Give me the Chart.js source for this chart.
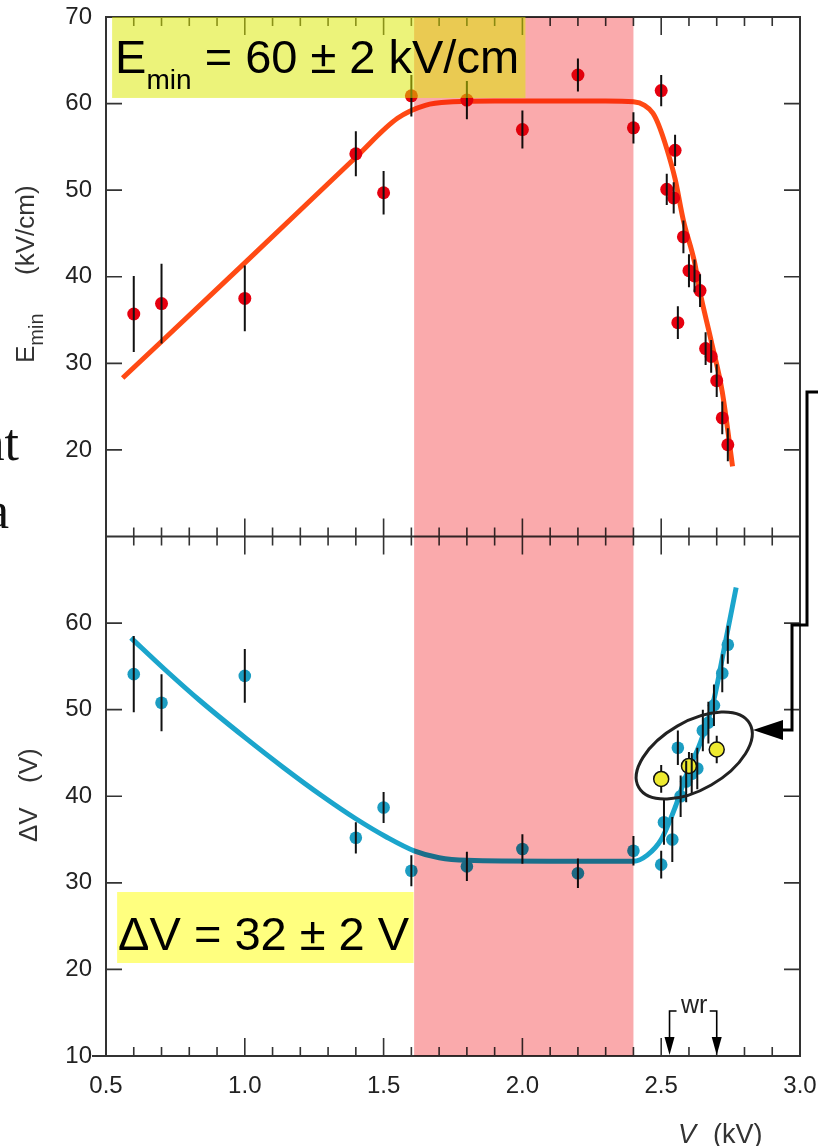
<!DOCTYPE html>
<html>
<head>
<meta charset="utf-8">
<script src="https://cdn.jsdelivr.net/npm/chart.js@4.4.1/dist/chart.umd.min.js"></script>
<style>
  html, body { margin: 0; padding: 0; background: #fff; }
  #wrap { position: relative; width: 818px; height: 1146px; }
</style>
</head>
<body>
<div id="wrap"><canvas id="chart" width="818" height="1146"></canvas></div>
<script>
"use strict";

// -----------------------------
// data
// -----------------------------
// upper panel : E_min (kV/cm) vs V (kV)
const eX   = [0.60, 0.70, 1.00, 1.40, 1.50, 1.60, 1.80, 2.00, 2.20, 2.40, 2.50, 2.52, 2.545, 2.55, 2.56, 2.58, 2.60, 2.62, 2.64, 2.66, 2.68, 2.70, 2.72, 2.74];
const eY   = [35.7, 36.9, 37.5, 54.2, 49.7, 60.9, 60.4, 57.0, 63.3, 57.2, 61.5, 50.1, 49.1, 54.6, 34.7, 44.6, 40.7, 40.1, 38.4, 31.7, 30.8, 28.0, 23.7, 20.6];
const eErr = [4.4, 4.6, 3.8, 2.6, 2.5, 2.4, 2.2, 2.2, 1.9, 1.8, 1.8, 1.8, 1.8, 1.8, 1.9, 1.9, 1.9, 1.9, 1.9, 1.9, 1.9, 1.9, 1.9, 1.9];
const eFitX = [0.56, 1.00, 1.40, 1.55, 1.65, 1.75, 1.90, 2.10, 2.30, 2.40, 2.44, 2.47, 2.49, 2.52, 2.55, 2.58, 2.62, 2.64, 2.68, 2.72, 2.757];
const eFitY = [28.3, 41.6, 53.8, 58.3, 59.8, 60.2, 60.3, 60.3, 60.3, 60.2, 59.8, 58.9, 57.6, 54.8, 51.3, 46.5, 41.7, 38.2, 32.6, 26.7, 18.1];

// lower panel : delta V (V) vs V (kV)
const dX   = [0.60, 0.70, 1.00, 1.40, 1.50, 1.60, 1.80, 2.00, 2.20, 2.40, 2.50, 2.51, 2.54, 2.56, 2.57, 2.59, 2.61, 2.63, 2.65, 2.67, 2.69, 2.72, 2.74];
const dY   = [54.1, 50.8, 53.9, 35.2, 38.7, 31.4, 31.9, 33.9, 31.1, 33.7, 32.1, 37.0, 35.0, 45.6, 40.0, 41.7, 42.6, 43.2, 47.6, 48.5, 50.5, 54.2, 57.5];
const dErr = [4.4, 3.3, 3.1, 1.8, 1.8, 1.8, 1.7, 1.7, 1.7, 1.7, 1.6, 2.6, 2.6, 2.0, 2.4, 2.4, 2.4, 2.4, 2.4, 2.4, 2.4, 2.2, 2.2];
const dFitX = [0.59, 0.71, 0.84, 1.00, 1.14, 1.28, 1.40, 1.51, 1.61, 1.70, 1.80, 2.10, 2.40, 2.45, 2.50, 2.55, 2.59, 2.64, 2.69, 2.73, 2.77];
const dFitY = [58.3, 54.7, 51.0, 46.8, 43.3, 40.0, 37.4, 35.3, 33.7, 32.9, 32.6, 32.5, 32.5, 33.2, 35.0, 38.7, 42.4, 46.1, 51.2, 57.6, 64.1];

// circled (yellow) points
const hX   = [2.50, 2.60, 2.70];
const hY   = [42.0, 43.5, 45.4];
const hErr = [1.6, 1.6, 1.6];

// ticks / marks
const xTicks  = [0.5, 1.0, 1.5, 2.0, 2.5, 3.0];
const yTicksE = [20, 30, 40, 50, 60, 70];
const yTicksD = [10, 20, 30, 40, 50, 60];
const band    = [1.61, 2.40];
const wrMarks = [2.53, 2.70];

const FONT = '"Liberation Sans", Arial, Helvetica, sans-serif';

function pts(xs, ys) {
  return xs.map((x, i) => ({ x, y: ys[i] }));
}

// -----------------------------
// drawing helpers
// -----------------------------
function drawErrorBars(chart, under) {
  const c = chart.ctx;
  chart.data.datasets.forEach((ds, i) => {
    if (!ds.errs || !!ds.errUnder !== under) return;
    const meta = chart.getDatasetMeta(i);
    const ys = chart.scales[ds.yAxisID];
    c.save();
    c.strokeStyle = "#111";
    c.lineWidth = 2;
    c.beginPath();
    ds.data.forEach((p, j) => {
      const x = meta.data[j].x;
      c.moveTo(x, ys.getPixelForValue(p.y + ds.errs[j]));
      c.lineTo(x, ys.getPixelForValue(p.y - ds.errs[j]));
    });
    c.stroke();
    c.restore();
  });
}

function drawFrame(chart) {
  const { ctx: c, chartArea: a, scales } = chart;
  const xs = scales.x;
  const mid = scales.yE.bottom;
  c.save();
  c.strokeStyle = "#333";
  c.lineWidth = 2;
  c.beginPath();
  c.rect(a.left, a.top, a.right - a.left, a.bottom - a.top);
  c.moveTo(a.left, mid); c.lineTo(a.right, mid);
  c.moveTo(a.left - 14, a.bottom); c.lineTo(a.left, a.bottom);
  c.stroke();

  c.lineWidth = 1.6;
  c.beginPath();
  for (let k = 5; k <= 30; k++) {
    const px = xs.getPixelForValue(k / 10);
    const len = k % 5 === 0 ? 18 : 9;
    c.moveTo(px, a.top); c.lineTo(px, a.top + len);
    c.moveTo(px, mid - len); c.lineTo(px, mid + len);
    c.moveTo(px, a.bottom); c.lineTo(px, a.bottom - len);
  }
  ["yE", "yD"].forEach((id) => {
    const s = scales[id];
    [20, 30, 40, 50, 60].forEach((v) => {
      const py = s.getPixelForValue(v);
      c.moveTo(a.left, py); c.lineTo(a.left + 16, py);
      c.moveTo(a.right, py); c.lineTo(a.right - 16, py);
    });
  });
  c.stroke();
  c.restore();
}

function drawBand(chart) {
  const { ctx: c, chartArea: a, scales } = chart;
  const x0 = scales.x.getPixelForValue(band[0]);
  const x1 = scales.x.getPixelForValue(band[1]);
  c.save();
  c.globalCompositeOperation = "multiply";
  c.fillStyle = "rgb(250,170,172)";
  c.fillRect(x0, a.top, x1 - x0, a.bottom - a.top);
  c.restore();
}

function drawBoxes(chart) {
  const { ctx: c, scales } = chart;
  const xs = scales.x, yE = scales.yE, yD = scales.yD;
  c.save();
  // upper label box
  let l = xs.getPixelForValue(0.522), r = xs.getPixelForValue(2.011);
  let t = yE.getPixelForValue(70), b = yE.getPixelForValue(60.65);
  c.fillStyle = "rgba(218,232,0,0.52)";
  c.fillRect(l, t, r - l, b - t);
  c.fillStyle = "#000";
  c.textBaseline = "alphabetic";
  c.font = "47px " + FONT;
  c.fillText("E", l + 3, t + 56);
  const wE = c.measureText("E").width;
  c.font = "28px " + FONT;
  c.fillText("min", l + 3 + wE, t + 72);
  const wM = c.measureText("min").width;
  c.font = "47px " + FONT;
  c.fillText(" = 60 \u00b1 2 kV/cm", l + 3 + wE + wM, t + 56);

  // lower label box
  l = xs.getPixelForValue(0.54); r = xs.getPixelForValue(1.608);
  t = yD.getPixelForValue(28.94); b = yD.getPixelForValue(20.74);
  c.fillStyle = "rgba(255,255,0,0.5)";
  c.fillRect(l, t, r - l, b - t);
  c.fillStyle = "#000";
  c.font = "47px " + FONT;
  c.fillText("\u0394V = 32 \u00b1 2 V", l + 1, t + 58);
  c.restore();
}

function drawNotes(chart) {
  const { ctx: c, chartArea: a, scales } = chart;
  const xs = scales.x, yD = scales.yD;
  c.save();

  // ellipse around the circled points
  const ex = xs.getPixelForValue(2.619), ey = yD.getPixelForValue(44.7);
  c.strokeStyle = "#222";
  c.lineWidth = 3;
  c.beginPath();
  c.ellipse(ex, ey, 64, 34, -Math.PI / 6, 0, Math.PI * 2);
  c.stroke();

  // connector bracket on the right
  c.strokeStyle = "#000";
  c.lineWidth = 3;
  c.beginPath();
  c.moveTo(818, 392);
  c.lineTo(a.right + 7, 392);
  c.lineTo(a.right + 7, 625);
  c.lineTo(a.right - 8, 625);
  c.lineTo(a.right - 8, 730);
  c.lineTo(a.right - 18, 730);
  c.stroke();
  c.fillStyle = "#000";
  c.beginPath();
  c.moveTo(a.right - 17, 720);
  c.lineTo(a.right - 47, 730);
  c.lineTo(a.right - 17, 740);
  c.closePath();
  c.fill();

  // "wr" markers
  const w0 = xs.getPixelForValue(wrMarks[0]), w1 = xs.getPixelForValue(wrMarks[1]);
  const hy = a.bottom - 45;
  c.lineWidth = 1.6;
  c.beginPath();
  c.moveTo(w0 + 7, hy); c.lineTo(w0, hy); c.lineTo(w0, a.bottom - 16);
  c.moveTo(w1 - 7, hy); c.lineTo(w1, hy); c.lineTo(w1, a.bottom - 16);
  c.stroke();
  [w0, w1].forEach((wx) => {
    c.beginPath();
    c.moveTo(wx - 5, a.bottom - 19);
    c.lineTo(wx, a.bottom - 1);
    c.lineTo(wx + 5, a.bottom - 19);
    c.closePath();
    c.fill();
  });
  c.fillStyle = "#222";
  c.font = "25px " + FONT;
  c.textAlign = "center";
  c.fillText("wr", (w0 + w1) / 2 + 1, a.bottom - 43);

  // axis titles
  c.fillStyle = "#333";
  c.textAlign = "left";
  c.save();
  c.translate(34, 363);
  c.rotate(-Math.PI / 2);
  c.font = "26px " + FONT;
  c.fillText("E", 0, 0);
  const wE = c.measureText("E").width;
  c.font = "20px " + FONT;
  c.fillText("min", wE, 9);
  c.font = "26px " + FONT;
  c.fillText("(kV/cm)", 88, 0);
  c.restore();

  c.save();
  c.translate(37, 842);
  c.rotate(-Math.PI / 2);
  c.font = "26px " + FONT;
  c.fillText("\u0394V", 0, 0);
  c.fillText("(V)", 59, 0);
  c.restore();

  c.font = "italic 27px " + FONT;
  c.fillText("V", 678, 1143);
  c.font = "27px " + FONT;
  c.fillText("(kV)", 713, 1143);

  // text fragments from the page at the left edge
  c.fillStyle = "#111";
  c.textAlign = "right";
  c.font = "52px \"Liberation Serif\", serif";
  c.fillText("at", 19, 460);
  c.fillText("a", 9, 528);
  c.restore();
}

const paperPlugin = {
  id: "paper",
  beforeDraw(chart) {
    const c = chart.ctx;
    c.save();
    c.fillStyle = "#fff";
    c.fillRect(0, 0, chart.width, chart.height);
    c.restore();
  },
  beforeDatasetsDraw(chart) {
    drawErrorBars(chart, true);
  },
  afterDatasetsDraw(chart) {
    drawErrorBars(chart, false);
    drawFrame(chart);
    drawBand(chart);
    drawBoxes(chart);
    drawNotes(chart);
  },
};

// -----------------------------
// chart
// -----------------------------
const tickFont = { family: FONT, size: 24 };

// y axes: fixed width, no extra padding for the end labels
function fitY(s) {
  s.width = 106;
  s.paddingTop = 0;
  s.paddingBottom = 0;
}

new Chart(document.getElementById("chart"), {
  type: "scatter",
  data: {
    datasets: [
      {
        label: "circled",
        data: pts(hX, hY),
        errs: hErr,
        errUnder: true,
        yAxisID: "yD",
        backgroundColor: "#eeea30",
        borderColor: "#111",
        borderWidth: 1.5,
        pointRadius: 7.5,
        order: 0,
      },
      {
        label: "Emin",
        data: pts(eX, eY),
        errs: eErr,
        yAxisID: "yE",
        backgroundColor: "#e6000f",
        borderWidth: 0,
        pointRadius: 6.5,
        order: 1,
      },
      {
        label: "dV",
        data: pts(dX, dY),
        errs: dErr,
        yAxisID: "yD",
        backgroundColor: "#1c9dc2",
        borderWidth: 0,
        pointRadius: 6.3,
        order: 1,
      },
      {
        label: "Emin fit",
        data: pts(eFitX, eFitY),
        yAxisID: "yE",
        showLine: true,
        borderColor: "#ff4a14",
        borderWidth: 5,
        pointRadius: 0,
        cubicInterpolationMode: "monotone",
        order: 5,
      },
      {
        label: "dV fit",
        data: pts(dFitX, dFitY),
        yAxisID: "yD",
        showLine: true,
        borderColor: "#1ba5cc",
        borderWidth: 5,
        pointRadius: 0,
        cubicInterpolationMode: "monotone",
        order: 5,
      },
    ],
  },
  options: {
    responsive: false,
    animation: false,
    layout: { padding: { top: 17, right: 18, left: 0, bottom: 0 } },
    plugins: { legend: { display: false }, tooltip: { enabled: false } },
    scales: {
      x: {
        type: "linear",
        min: 0.5,
        max: 3.0,
        grid: { display: false, drawTicks: false },
        border: { display: false },
        ticks: {
          stepSize: 0.5,
          autoSkip: false,
          maxRotation: 0,
          padding: 16,
          color: "#222",
          font: tickFont,
          callback: (v) => (xTicks.includes(v) ? v.toFixed(1) : ""),
        },
        afterFit: (s) => {
          s.height = 90;
          s.paddingLeft = 0;
          s.paddingRight = 0;
        },
      },
      yD: {
        type: "linear",
        position: "left",
        stack: "panels",
        stackWeight: 1,
        min: 10,
        max: 70,
        grid: { display: false, drawTicks: false },
        border: { display: false },
        ticks: {
          stepSize: 10,
          autoSkip: false,
          padding: 14,
          color: "#222",
          font: tickFont,
          callback: (v) => (yTicksD.includes(v) ? String(v) : ""),
        },
        afterFit: fitY,
      },
      yE: {
        type: "linear",
        position: "left",
        stack: "panels",
        stackWeight: 1,
        min: 10,
        max: 70,
        grid: { display: false, drawTicks: false },
        border: { display: false },
        ticks: {
          stepSize: 10,
          autoSkip: false,
          padding: 14,
          color: "#222",
          font: tickFont,
          callback: (v) => (yTicksE.includes(v) ? String(v) : ""),
        },
        afterFit: fitY,
      },
    },
  },
  plugins: [paperPlugin],
});
</script>
</body>
</html>
